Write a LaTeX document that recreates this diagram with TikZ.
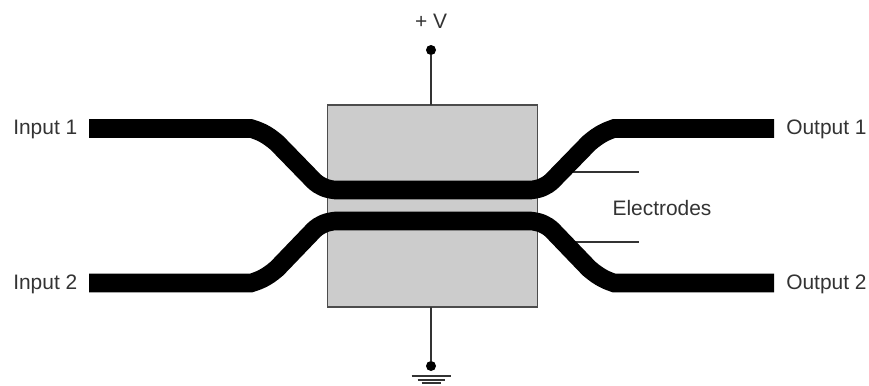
\documentclass[tikz,border=0pt]{standalone}
\usepackage{fontspec}
\setmainfont{Liberation Sans}
\definecolor{boxgray}{HTML}{CCCCCC}
\definecolor{inkgray}{HTML}{333333}
\tikzset{
    label text/.style={font=\fontsize{15.7pt}{18pt}\selectfont, text=inkgray, inner sep=0pt},
    thin wire/.style={line width=0.8pt, draw=black!80},
    dot/.style={circle, fill=black, inner sep=0pt, minimum size=7.5pt},
    guide/.style={line width=13.9pt, black}
}

\begin{document}
\begin{tikzpicture}[x=0.75pt, y=-0.75pt]
    \useasboundingbox (0,0) rectangle (869,386);
    % crystal block
    \node[draw=black!70, line width=0.8pt, fill=boxgray, minimum width=157.5pt, minimum height=151.5pt, inner sep=0pt, outer sep=0pt] (block) at (432.5,206) {};
    % supply and ground
    \node[dot] (vdot) at (431,50) {};
    \node[dot] (gnddot) at (431,366) {};
    \draw[thin wire] (vdot) -- (vdot |- block.north);
    \draw[thin wire] (gnddot) -- (gnddot |- block.south);
    \foreach \y/\w in {376/19.5,380/13.5,383/9.5}{
        \draw[thin wire] (431-\w,\y) -- (431+\w,\y);
    }
    % electrode leads
    \coordinate (leadA) at (570,172);
    \coordinate (leadAend) at (639,172);
    \coordinate (leadB) at (572,242);
    \coordinate (leadBend) at (639,242);
    \draw[thin wire] (leadA) -- (leadAend);
    \draw[thin wire] (leadB) -- (leadBend);
    % the two waveguides
    \foreach \ya/\yb/\s in {128.5/190/1,283/221/-1}{
        \draw[guide] (89,\ya) -- (251,\ya)
            .. controls (259,{\ya+\s*2.5}) and (266,{\ya+\s*5}) .. (277,{\ya+\s*14.5})
            -- (314,{\yb-\s*9})
            .. controls (320,{\yb-\s*3.5}) and (326,{\yb-\s*1}) .. (335,\yb)
            -- (531,\yb)
            .. controls (540,{\yb-\s*1}) and (546,{\yb-\s*3.5}) .. (552,{\yb-\s*9})
            -- (589,{\ya+\s*14.5})
            .. controls (600,{\ya+\s*5}) and (607,{\ya+\s*2.5}) .. (614,\ya)
            -- (774,\ya);
    }
    \node[label text, anchor=base west] (inA) at (13,134) {Input 1};
    \node[label text, anchor=base west] (inB) at (13,289) {Input 2};
    \node[label text, anchor=base west] (outA) at (786,134) {Output 1};
    \node[label text, anchor=base west] (outB) at (786,289) {Output 2};
    \node[label text, anchor=base] (elec) at (662,215) {Electrodes};
    \node[label text, anchor=base] (vlabel) at (431,28.5) {+ V};
\end{tikzpicture}
\end{document}
